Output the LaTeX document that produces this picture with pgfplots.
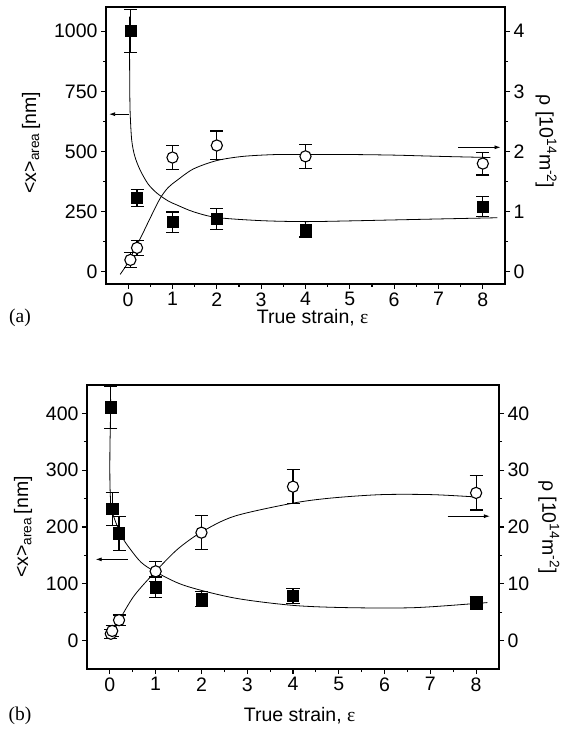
\documentclass[border=0pt]{standalone}
\usepackage{fontspec}
\setmainfont{Liberation Sans}
\newfontfamily\serif{Liberation Serif}
\usepackage{pgfplots}
\pgfplotsset{compat=1.18}
\usetikzlibrary{arrows.meta}
\newcommand{\fs}{\fontsize{19.5bp}{23bp}\selectfont}

\pgfplotstableread{
x y e
0.05 1000 90
0.2 307 37
1 207 42
2 220 43
4 177 32
8 272 40
}\asq
\pgfplotstableread{
x y e
0.05 0.2 0.12
0.2 0.4 0.12
1 1.9 0.2
2 2.1 0.24
4 1.92 0.2
8 1.8 0.19
}\aci
\pgfplotstableread{
x y e
0.02 411 37
0.05 232 29
0.2 189 30
1 94 18
2 73 13
4 79 13
8 66 12
}\bsq
\pgfplotstableread{
x y e
0.02 1.2 0.8
0.05 1.7 1.0
0.2 3.6 0.9
1 12.2 1.8
2 19.0 3.0
4 27.1 3.0
8 26.0 3.0
}\bci

\tikzset{arr/.style={-{Latex[length=6bp,width=4bp]}, line width=0.8pt, black}}
\pgfplotsset{
  base/.style={
    scale only axis, anchor=south west,
    xmin=-0.5, xmax=8.5,
    tick align=outside,
    major tick length=5bp, minor tick length=3bp,
    every tick/.style={black, line width=1.1pt},
    axis line style={line width=1.2pt},
    tick label style={font=\fs},
    label style={font=\fs},
    /pgf/number format/assume math mode=true,
    /pgf/number format/1000 sep={},
    minor y tick num=1,
  },
  sq/.style={only marks, mark=square*, mark size=5.6bp, mark options={fill=black, draw=black},
    error bars/.cd, y dir=both, y explicit,
    error bar style={line width=1.1pt, black},
    error mark options={rotate=90, line width=1.1pt, mark size=6.5bp, black}},
  ci/.style={only marks, mark=*, mark size=5.6bp, mark options={fill=white, draw=black, line width=1.1pt},
    error bars/.cd, y dir=both, y explicit,
    error bar style={line width=1.1pt, black},
    error mark options={rotate=90, line width=1.1pt, mark size=6.5bp, black}},
  fit/.style={black, line width=0.8pt, smooth, no marks},
}

\begin{document}
\begin{tikzpicture}
\path[use as bounding box] (0bp,0bp) rectangle (562bp,729bp);

% ---------- panel (a) ----------
\begin{axis}[base,
  at={(106bp,445bp)}, width=399bp, height=277bp,
  ymin=-50, ymax=1100,
  xtick={0,...,8}, minor x tick num=1,
  ytick={0,250,500,750,1000},
  xtick pos=bottom, ytick pos=left,
  xlabel={True strain, {\serif ε}},
  xlabel style={at={(axis description cs:0.518,-0.123)}, anchor=center},
  ylabel={<x>\textsubscript{area}\,[nm]},
  ylabel style={at={(axis description cs:-0.188,0.51)}, anchor=center},
]
\addplot[fit] coordinates {(0.03,1060) (0.032,900) (0.036,760) (0.045,660) (0.08,547) (0.15,480) (0.27,423) (0.45,365) (0.65,327) (0.9,295) (1.1,278) (1.47,250) (2.0,226) (3.0,213) (4.0,209) (5.0,212) (6.0,216) (7.0,220) (8.33,225)};
\addplot+[sq] table[x=x, y=y, y error=e] {\asq};
\draw[arr] (axis cs:0.03,655) -- (axis cs:-0.43,655);
\end{axis}
\begin{axis}[base,
  at={(106bp,445bp)}, width=399bp, height=277bp,
  ymin=-0.2, ymax=4.4,
  axis x line=none, axis y line*=right,
  ytick={0,1,2,3,4},
  ylabel={ρ [10\textsuperscript{14}m\textsuperscript{-2}]},
  ylabel style={at={(axis description cs:1.103,0.514)}, anchor=center, rotate=180},
]
\addplot[fit] coordinates {(-0.18,-0.04) (-0.05,0.1) (0.05,0.24) (0.27,0.55) (0.5,0.9) (0.72,1.22) (0.9,1.4) (1.1,1.52) (1.47,1.71) (2.0,1.85) (2.6,1.92) (3.35,1.95) (4.0,1.95) (5.0,1.95) (6.0,1.94) (7.0,1.92) (8.17,1.9)};
\addplot+[ci] table[x=x, y=y, y error=e] {\aci};
\draw[arr] (axis cs:7.45,2.07) -- (axis cs:8.4,2.07);
\end{axis}
\node[font=\serif\fs] at (20bp,411bp) {(a)};

% ---------- panel (b) ----------
\begin{axis}[base,
  at={(87bp,60bp)}, width=412bp, height=284bp,
  ymin=-50, ymax=450,
  xtick={0,...,8}, minor x tick num=1,
  ytick={0,100,200,300,400},
  xtick pos=bottom, ytick pos=left,
  xlabel={True strain, {\serif ε}},
  xlabel style={at={(axis description cs:0.516,-0.165)}, anchor=center},
  ylabel={<x>\textsubscript{area}\,[nm]},
  ylabel style={at={(axis description cs:-0.155,0.5)}, anchor=center},
]
\addplot[fit] coordinates {(0.02,425) (0.01,380) (0.0,330) (0.0,283) (0.01,255) (0.03,232) (0.13,208) (0.25,185) (0.39,167) (0.68,138) (1.0,121) (1.63,97) (2.72,75) (4.0,62) (5.2,58) (6.65,58) (8.1,66) (8.23,67)};
\addplot+[sq] table[x=x, y=y, y error=e] {\bsq};
\draw[arr] (axis cs:0.39,143) -- (axis cs:-0.31,143);
\end{axis}
\begin{axis}[base,
  at={(87bp,60bp)}, width=412bp, height=284bp,
  ymin=-5, ymax=45,
  axis x line=none, axis y line*=right,
  ytick={0,10,20,30,40},
  ylabel={ρ [10\textsuperscript{14}m\textsuperscript{-2}]},
  ylabel style={at={(axis description cs:1.121,0.5)}, anchor=center, rotate=180},
]
\addplot[fit] coordinates {(0.02,0.35) (0.09,1.8) (0.2,3.5) (0.53,7.9) (1.0,12.2) (1.48,16.1) (2.0,19.1) (2.72,21.9) (4.0,24.2) (4.84,25.1) (5.93,25.7) (7.02,25.7) (7.97,25.3)};
\addplot+[ci] table[x=x, y=y, y error=e] {\bci};
\draw[arr] (axis cs:7.38,21.9) -- (axis cs:8.3,21.9);
\end{axis}
\node[font=\serif\fs] at (20bp,13bp) {(b)};
\end{tikzpicture}
\end{document}
